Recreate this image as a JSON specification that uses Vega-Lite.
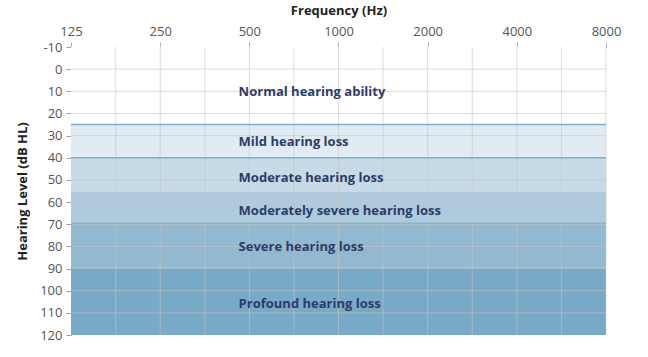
{
  "$schema": "https://vega.github.io/schema/vega-lite/v6.json",
  "width": 535,
  "height": 288,
  "autosize": {"type": "none"},
  "padding": {"left": 71, "top": 47, "right": 42, "bottom": 22},
  "background": "white",
  "config": {
    "view": {"stroke": null},
    "font": "Open Sans",
    "axis": {"labelFont": "Open Sans", "titleFont": "Open Sans", "labelOverlap": false}
  },
  "datasets": {
    "bands": [
      {"name": "Normal hearing ability", "from": -10, "to": 25, "color": "#ffffff", "labelY": 10.5},
      {"name": "Mild hearing loss", "from": 25, "to": 40, "color": "#e0ebf3", "labelY": 33},
      {"name": "Moderate hearing loss", "from": 40, "to": 55.5, "color": "#c7dae8", "labelY": 49},
      {"name": "Moderately severe hearing loss", "from": 55.5, "to": 69.5, "color": "#aecadc", "labelY": 64},
      {"name": "Severe hearing loss", "from": 69.5, "to": 89.5, "color": "#92b9d0", "labelY": 80.5},
      {"name": "Profound hearing loss", "from": 89.5, "to": 120, "color": "#78a9c7", "labelY": 106}
    ],
    "hgrid": [{"db": 0}, {"db": 10}, {"db": 20}, {"db": 30}, {"db": 40}, {"db": 50}, {"db": 60}, {"db": 70}, {"db": 80}, {"db": 90}, {"db": 100}, {"db": 110}],
    "vgrid": [{"f": 177}, {"f": 250}, {"f": 354}, {"f": 500}, {"f": 707}, {"f": 1000}, {"f": 1414}, {"f": 2000}, {"f": 2828}, {"f": 4000}, {"f": 5657}, {"f": 8000}],
    "borders": [{"db": 25, "w": 1.5, "c": "#7fb0cc"}, {"db": 40, "w": 1.5, "c": "#7fb0cc"}, {"db": 69.5, "w": 1, "c": "#86b1cb"}]
  },
  "layer": [
    {
      "data": {"name": "bands"},
      "mark": {"type": "rect"},
      "encoding": {
        "x": {"datum": 125, "type": "quantitative",
          "scale": {"type": "log", "base": 2, "domain": [125, 8000], "nice": false},
          "axis": {"orient": "top", "values": [125, 250, 500, 1000, 2000, 4000, 8000], "format": "d", "tickCount": 20,
            "title": "Frequency (Hz)", "titleFontSize": 13, "titleFontWeight": "bold", "titleColor": "#222",
            "titlePadding": 8, "labelFontSize": 13, "labelColor": "#555", "labelPadding": 4,
            "grid": false, "domainColor": "#b0b0b0", "tickColor": "#b0b0b0", "tickSize": 5, "labelFlush": false, "labelOverlap": false}},
        "x2": {"datum": 8000},
        "y": {"field": "from", "type": "quantitative",
          "scale": {"domain": [-10, 120], "reverse": true, "nice": false, "zero": false},
          "axis": {"values": [-10, 0, 10, 20, 30, 40, 50, 60, 70, 80, 90, 100, 110, 120],
            "labelExpr": "'' + datum.value", "labelOverlap": false, "tickCount": 20,
            "title": "Hearing Level (dB HL)", "titleFontSize": 13, "titleFontWeight": "bold", "titleColor": "#222",
            "titlePadding": 10, "labelFontSize": 13, "labelColor": "#555", "labelPadding": 4,
            "grid": false, "domainColor": "#a0a0a0", "tickColor": "#a0a0a0", "tickSize": 5}},
        "y2": {"field": "to"},
        "color": {"field": "color", "type": "nominal", "scale": null}
      }
    },
    {
      "data": {"name": "hgrid"},
      "mark": {"type": "rule", "color": "#c4c4c4", "opacity": 0.6, "strokeWidth": 1},
      "encoding": {"y": {"field": "db", "type": "quantitative"}}
    },
    {
      "data": {"name": "vgrid"},
      "mark": {"type": "rule", "color": "#c4c4c4", "opacity": 0.6, "strokeWidth": 1},
      "encoding": {"x": {"field": "f", "type": "quantitative"}}
    },
    {
      "data": {"name": "borders"},
      "mark": {"type": "rule"},
      "encoding": {
        "y": {"field": "db", "type": "quantitative"},
        "strokeWidth": {"field": "w", "type": "quantitative", "scale": null},
        "color": {"field": "c", "type": "nominal", "scale": null}
      }
    },
    {
      "data": {"name": "bands"},
      "mark": {"type": "text", "align": "left", "baseline": "middle", "fontSize": 13, "fontWeight": "bold", "color": "#2b3c69", "font": "Open Sans"},
      "encoding": {
        "x": {"datum": 460, "type": "quantitative"},
        "y": {"field": "labelY", "type": "quantitative"},
        "text": {"field": "name"}
      }
    }
  ]
}
